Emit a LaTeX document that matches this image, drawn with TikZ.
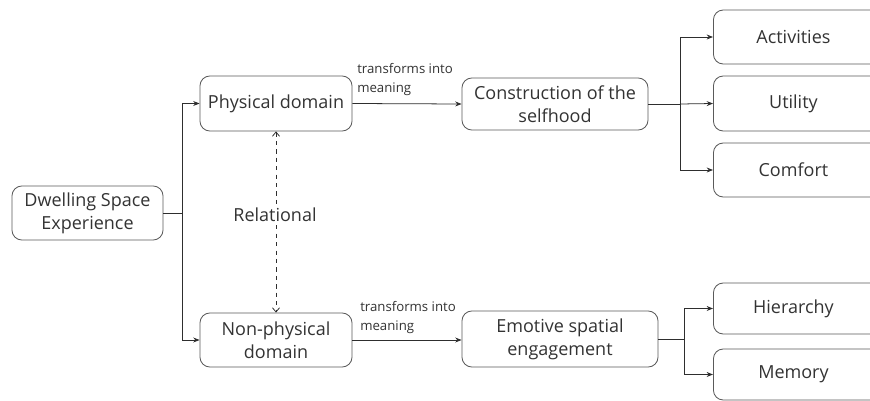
\documentclass[tikz,border=0pt]{standalone}
\usepackage{fontspec}
\setmainfont{Open Sans}
\usetikzlibrary{arrows.meta,positioning,calc}
\definecolor{DwInk}{HTML}{333333}
\definecolor{DwEdge}{HTML}{5A5A5A}
\definecolor{DwLine}{HTML}{2E2E2E}

\tikzset{
  box/.style={draw=DwEdge,line width=0.6pt,rounded corners=7pt,fill=white,text=DwInk,
    font=\fontsize{12.8}{16.3}\selectfont,align=center,inner sep=2pt},
  link/.style={draw=DwLine,line width=0.55pt,-{Stealth[length=4.5pt,width=3.5pt]}},
  note/.style={text=DwInk,font=\fontsize{9.4}{13.5}\selectfont,align=left,anchor=north west,inner sep=0pt}
}

\begin{document}
\begin{tikzpicture}[x=0.025cm,y=-0.025cm]
\useasboundingbox (0,0) rectangle (870,401);
\clip (0,0) rectangle (870,401);
\fill[white] (0,0) rectangle (870,401);
% main boxes
\node[box,minimum width=3.775cm,minimum height=1.35cm] (dse) at (87.5,213) {Dwelling Space\\Experience};
\node[box,minimum width=3.8cm,minimum height=1.375cm] (phys) at (276,103.5) {Physical domain};
\node[box,minimum width=3.8cm,minimum height=1.35cm] (nonphys) at (276,340) {Non-physical\\domain};
\node[box,minimum width=4.65cm,minimum height=1.3cm] (cons) at (555,104) {Construction of the\\selfhood};
\node[box,minimum width=4.9cm,minimum height=1.4cm] (emot) at (560,339) {Emotive spatial\\engagement};
% outcome boxes
\node[box,minimum width=4.3cm,minimum height=1.35cm,anchor=west] (act) at (713,37) {Activities\hspace*{0.3cm}};
\node[box,minimum width=4.3cm,minimum height=1.375cm,anchor=west] (util) at (713,103.5) {Utility\hspace*{0.3cm}};
\node[box,minimum width=4.3cm,minimum height=1.35cm,anchor=west] (comf) at (713,170) {Comfort\hspace*{0.3cm}};
\node[box,minimum width=4.3cm,minimum height=1.275cm,anchor=west] (hier) at (713,308.5) {Hierarchy\hspace*{0.3cm}};
\node[box,minimum width=4.3cm,minimum height=1.275cm,anchor=west] (mem) at (713,374.5) {Memory\hspace*{0.3cm}};
% branch points
\coordinate (j1) at (182,213);
\coordinate (j2) at (680,104);
\coordinate (j3) at (684,339);
\draw[draw=DwLine,line width=0.55pt] (dse.east) -- (j1);
\draw[link] (j1) |- (phys.west);
\draw[link] (j1) |- (nonphys.west);
\draw[link] (phys.east) -- (cons.west);
\draw[link] (nonphys.east) -- (emot.west |- nonphys.east);
\node[note] (t1) at (357,63) {transforms into\\meaning};
\node[note] (t2) at (360,301) {transforms into\\meaning};
\draw[draw=DwLine,line width=0.55pt] (cons.east) -- (j2);
\draw[link] (j2) |- (act.west);
\draw[link] (j2) -- (util.west);
\draw[link] (j2) |- (comf.west);
\draw[draw=DwLine,line width=0.55pt] (emot.east) -- (j3);
\draw[link] (j3) |- (hier.west);
\draw[link] (j3) |- (mem.west);
% relational link
\draw[draw=DwLine,line width=0.55pt,dashed,{Straight Barb[length=3pt,width=5pt]}-{Straight Barb[length=3pt,width=5pt]}] (phys.south) -- (nonphys.north);
\node[fill=white,text=DwInk,font=\fontsize{12.8}{16.3}\selectfont,inner sep=2pt] (rel) at (275,215) {Relational};
\end{tikzpicture}
\end{document}
